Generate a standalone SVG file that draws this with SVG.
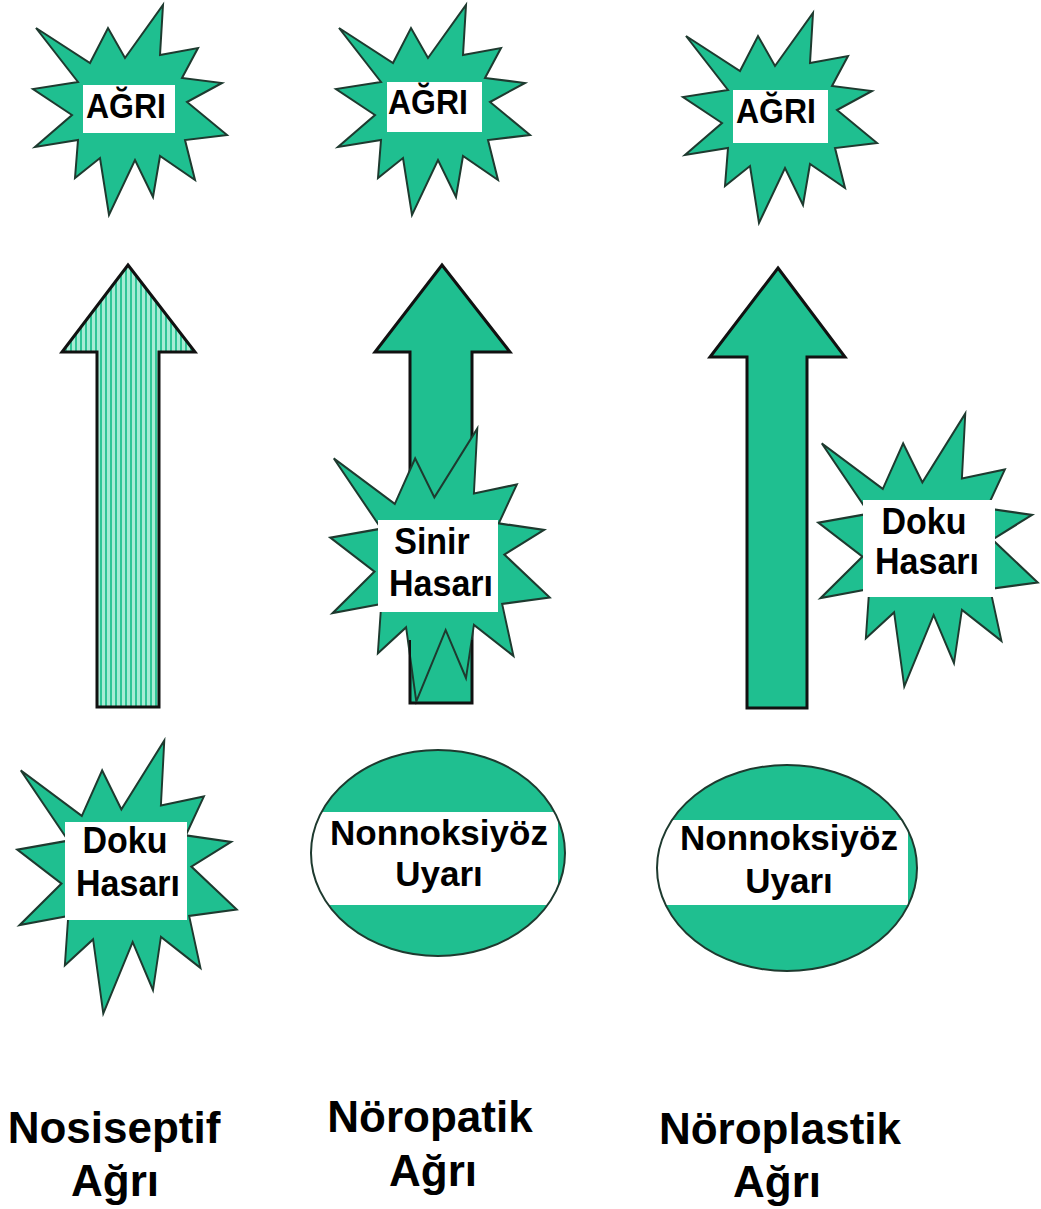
<svg xmlns="http://www.w3.org/2000/svg" xmlns:xlink="http://www.w3.org/1999/xlink" width="1041" height="1209" viewBox="0 0 1041 1209">
<style>
.g{fill:#1fbf90;stroke:#1e3a2f;stroke-width:2;stroke-linejoin:miter}
.ol{fill:none;stroke:#1e3a2f;stroke-width:2}
.arr{fill:#1fbf90;stroke:#111;stroke-width:3;stroke-linejoin:miter}
.box{fill:#fff}
.t{font-family:"Liberation Sans",Arial,sans-serif;font-weight:bold;fill:#000;text-anchor:middle}
.s32{font-size:32px}
.s34{font-size:34px}
.s35{font-size:35px}
.s44{font-size:44px}
</style>
<defs>
<pattern id="hatch" patternUnits="userSpaceOnUse" width="5" height="10">
<rect width="5" height="10" fill="#a6ecd5"/>
<rect x="0" width="2" height="10" fill="#2fc596"/>
</pattern>
<polygon id="star" points="-94,-82 -40,-47 -22,-82 -5,-52 33,-105 30,-55 68,-62 52,-32 92,-27 57,-8 97,25 55,30 65,70 30,46 23,87 5,50 -21,105 -30,48 -55,68 -52,30 -95,37 -58,5 -97,-21 -52,-28"/>
<clipPath id="c1"><ellipse cx="438" cy="853" rx="127" ry="103"/></clipPath>
<clipPath id="c2"><ellipse cx="787" cy="868" rx="130" ry="103"/></clipPath>
</defs>

<g id="connectors">
<polygon id="arrow1" points="128,265 195,352 159,352 159,707 97,707 97,352 62,352" fill="url(#hatch)" stroke="#111" stroke-width="3"/>
<polygon id="arrow2" class="arr" points="442,265 510,352 472,352 472,703 410,703 410,352 375,352"/>
<polygon id="arrow3" class="arr" points="778,268 845,357 807,357 807,708 747,708 747,357 710,357"/>
</g>

<g id="agri1">
<use xlink:href="#star" class="g" transform="translate(130,110)"/>
<rect class="box" x="83" y="85" width="92" height="48"/>
<text class="t s32" transform="translate(126,118) scale(1,1.08)">AĞRI</text>
</g>
<g id="agri2">
<use xlink:href="#star" class="g" transform="translate(433,110)"/>
<rect class="box" x="387" y="82" width="95" height="50"/>
<text class="t s32" transform="translate(428,114) scale(1,1.08)">AĞRI</text>
</g>
<g id="agri3">
<use xlink:href="#star" class="g" transform="translate(780,118)"/>
<rect class="box" x="733" y="90" width="95" height="53"/>
<text class="t s32" transform="translate(776,123) scale(1,1.08)">AĞRI</text>
</g>

<g id="sinir-hasari">
<use xlink:href="#star" class="g" transform="translate(440,565) scale(1.13,1.3)" style="stroke-width:1.7"/>
<path class="ol" d="M410,640 V703 H472 V640" style="stroke:#111"/>
<rect class="box" x="378" y="520" width="120" height="92"/>
<text class="t s34" transform="translate(432,554) scale(1,1.1)">Sinir</text>
<text class="t s34" transform="translate(441,596) scale(1,1.1)">Hasarı</text>
</g>

<g id="doku-hasari-2">
<use xlink:href="#star" class="g" transform="translate(928,550) scale(1.13,1.3)" style="stroke-width:1.7"/>
<rect class="box" x="863" y="500" width="132" height="97"/>
<text class="t s34" transform="translate(924,534) scale(1,1.1)">Doku</text>
<text class="t s34" transform="translate(927,574) scale(1,1.1)">Hasarı</text>
</g>

<g id="doku-hasari-1">
<use xlink:href="#star" class="g" transform="translate(127,877) scale(1.13,1.3)" style="stroke-width:1.7"/>
<rect class="box" x="65" y="822" width="122" height="98"/>
<text class="t s34" transform="translate(125,853) scale(1,1.1)">Doku</text>
<text class="t s34" transform="translate(128,896) scale(1,1.1)">Hasarı</text>
</g>

<g id="nonnoksiyoz-1">
<ellipse cx="438" cy="853" rx="127" ry="103" fill="#1fbf90"/>
<rect class="box" x="300" y="812" width="258" height="93" clip-path="url(#c1)"/>
<ellipse class="ol" cx="438" cy="853" rx="127" ry="103"/>
<text class="t s35" x="439" y="845">Nonnoksiyöz</text>
<text class="t s35" x="439" y="886">Uyarı</text>
</g>

<g id="nonnoksiyoz-2">
<ellipse cx="787" cy="868" rx="130" ry="103" fill="#1fbf90"/>
<rect class="box" x="650" y="820" width="258" height="85" clip-path="url(#c2)"/>
<ellipse class="ol" cx="787" cy="868" rx="130" ry="103"/>
<text class="t s35" x="789" y="850">Nonnoksiyöz</text>
<text class="t s35" x="789" y="893">Uyarı</text>
</g>

<g id="label-nosiseptif">
<text class="t s44" x="114" y="1143">Nosiseptif</text>
<text class="t s44" x="115" y="1196">Ağrı</text>
</g>
<g id="label-noropatik">
<text class="t s44" x="430" y="1132">Nöropatik</text>
<text class="t s44" x="433" y="1186">Ağrı</text>
</g>
<g id="label-noroplastik">
<text class="t s44" x="780" y="1144">Nöroplastik</text>
<text class="t s44" x="777" y="1197">Ağrı</text>
</g>
</svg>
